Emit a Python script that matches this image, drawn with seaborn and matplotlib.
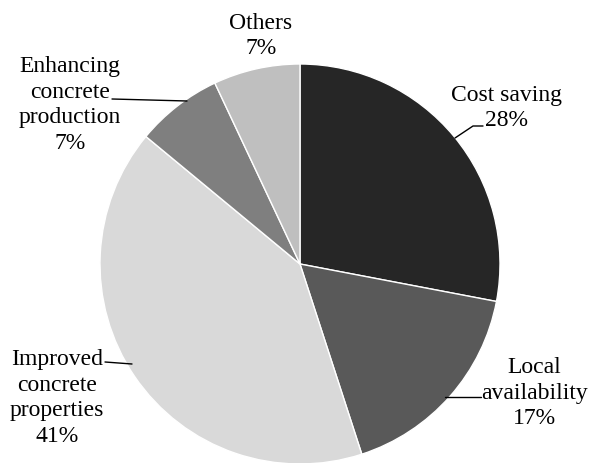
import matplotlib
matplotlib.use("Agg")
import matplotlib.pyplot as plt
import seaborn as sns

# ------------------------------
# Data
# ------------------------------
categories = ["Cost saving", "Local availability", "Improved concrete properties",
              "Enhancing concrete production", "Others"]
shares = [28, 17, 41, 7, 7]
label_text = ["Cost saving\n28%", "Local\navailability\n17%",
              "Improved\nconcrete\nproperties\n41%",
              "Enhancing\nconcrete\nproduction\n7%", "Others\n7%"]
colors = ["#262626", "#595959", "#d9d9d9", "#7f7f7f", "#bfbfbf"]

# ------------------------------
# Style
# ------------------------------
sns.set_theme(style="white")
plt.rcParams["font.family"] = ["Liberation Serif", "DejaVu Serif"]

W, H = 592, 464
fig = plt.figure(figsize=(W / 100, H / 100), dpi=100)
# pie centred at (300, 265) px with radius 200 px
ax = fig.add_axes([100 / W, (H - 465) / H, 400 / W, 400 / H])
ax.pie(shares, colors=colors, startangle=90, counterclock=False,
       wedgeprops=dict(edgecolor="white", linewidth=1.0))
ax.set_xlim(-1, 1)
ax.set_ylim(-1, 1)
ax.set_aspect("equal")
ax.axis("off")


def px(x, y):
    # pixel position -> data coordinates
    return (x - 300) / 200, (265 - y) / 200


# label centres (px) and leader lines (px)
label_pos = [(507, 108), (534, 393), (57, 398), (70, 105), (261, 36)]
leaders = [
    [(455, 139), (473, 127), (483, 127)],
    [(445, 398), (481, 398)],
    [(132, 365), (105, 363)],
    [(187, 102), (112, 100)],
    None,
]

for txt, (lx, ly), lead in zip(label_text, label_pos, leaders):
    x, y = px(lx, ly)
    ax.text(x, y, txt, ha="center", va="center", multialignment="center",
            fontsize=17, linespacing=1.3, color="black", clip_on=False)
    if lead:
        xs = [px(a, b)[0] for a, b in lead]
        ys = [px(a, b)[1] for a, b in lead]
        ax.plot(xs, ys, color="black", lw=1.0, clip_on=False)

fig.savefig("out.png", dpi=100)
